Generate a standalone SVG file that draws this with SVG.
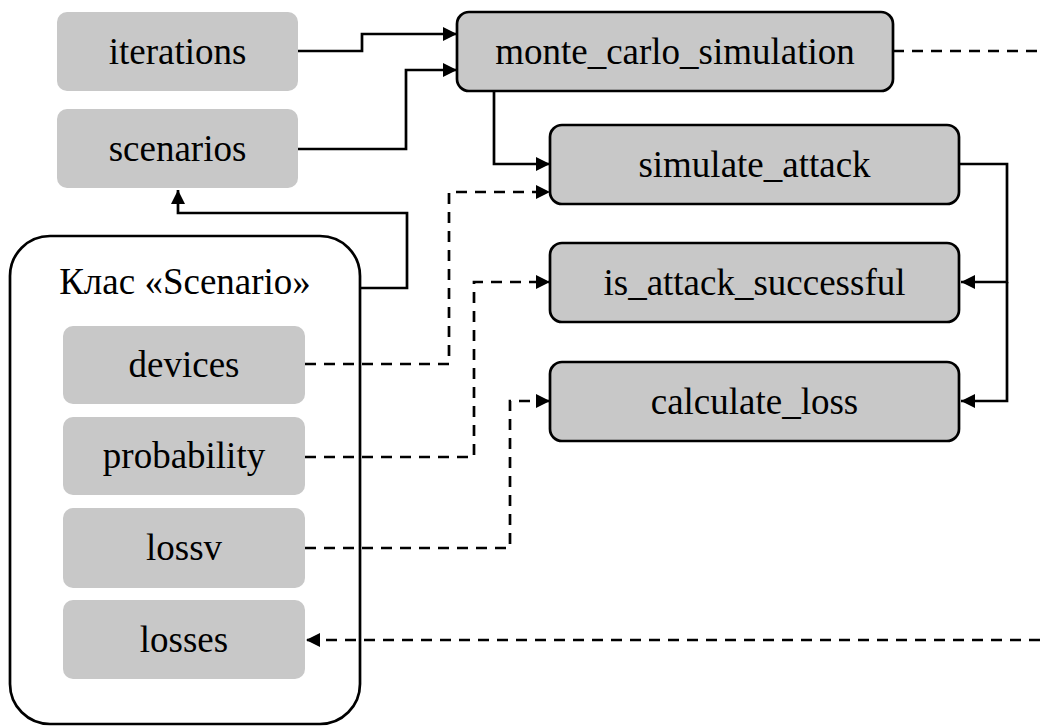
<svg xmlns="http://www.w3.org/2000/svg" width="1040" height="726" viewBox="0 0 1040 726">
  <style>
    .lbl { font-family: "Liberation Serif", "Times New Roman", serif; font-size: 37px; fill: #000; text-anchor: middle; }
    .plain { fill: #c8c8c8; stroke: none; }
    .func { fill: #c8c8c8; stroke: #000; stroke-width: 2.7; }
    .cls { fill: #fff; stroke: #000; stroke-width: 2.7; }
    .solid { fill: none; stroke: #000; stroke-width: 2.7; }
    .dash { fill: none; stroke: #000; stroke-width: 2.7; stroke-dasharray: 11 8; }
  </style>
  <defs>
    <marker id="arrow" viewBox="0 0 14 14" refX="14" refY="7" markerWidth="14" markerHeight="14" markerUnits="userSpaceOnUse" orient="auto">
      <path d="M0,0 L14,7 L0,14 Z" fill="#000"/>
    </marker>
  </defs>

  <rect width="1040" height="726" fill="#fff"/>

  <!-- Scenario class container -->
  <g id="class-scenario">
    <rect class="cls" x="10" y="236" width="350" height="488" rx="40" ry="40"/>
    <text class="lbl" x="185" y="294">Клас «Scenario»</text>
  </g>

  <g id="iterations">
    <rect class="plain" x="57" y="12" width="241" height="79" rx="10"/>
    <text class="lbl" x="177.5" y="64">iterations</text>
  </g>
  <g id="scenarios">
    <rect class="plain" x="57" y="109" width="241" height="79" rx="10"/>
    <text class="lbl" x="177.5" y="161">scenarios</text>
  </g>

  <g id="devices">
    <rect class="plain" x="63" y="326" width="242" height="78" rx="10"/>
    <text class="lbl" x="184" y="377">devices</text>
  </g>
  <g id="probability">
    <rect class="plain" x="63" y="417" width="242" height="78" rx="10"/>
    <text class="lbl" x="184" y="468">probability</text>
  </g>
  <g id="lossv">
    <rect class="plain" x="63" y="508" width="242" height="80" rx="10"/>
    <text class="lbl" x="184" y="560">lossv</text>
  </g>
  <g id="losses">
    <rect class="plain" x="63" y="600" width="242" height="79" rx="10"/>
    <text class="lbl" x="184" y="652">losses</text>
  </g>

  <g id="monte_carlo_simulation">
    <rect class="func" x="457" y="12" width="436" height="79" rx="12"/>
    <text class="lbl" x="675" y="64">monte_carlo_simulation</text>
  </g>
  <g id="simulate_attack">
    <rect class="func" x="550" y="125" width="409" height="79" rx="12"/>
    <text class="lbl" x="754.5" y="177">simulate_attack</text>
  </g>
  <g id="is_attack_successful">
    <rect class="func" x="550" y="243" width="409" height="79" rx="12"/>
    <text class="lbl" x="754.5" y="295">is_attack_successful</text>
  </g>
  <g id="calculate_loss">
    <rect class="func" x="550" y="362" width="409" height="79" rx="12"/>
    <text class="lbl" x="754.5" y="414">calculate_loss</text>
  </g>

  <g id="connectors">
    <!-- inputs of monte_carlo_simulation -->
    <path class="solid" d="M298,51 H362 V34 H457" marker-end="url(#arrow)"/>
    <path class="solid" d="M298,149 H406 V70 H457" marker-end="url(#arrow)"/>
    <!-- class feeds the scenarios list -->
    <path class="solid" d="M360,288 H407 V213 H178 V190" marker-end="url(#arrow)"/>
    <!-- call chain -->
    <path class="solid" d="M494,91 V164 H550" marker-end="url(#arrow)"/>
    <path class="solid" d="M959,164 H1007 V282 H961" marker-end="url(#arrow)"/>
    <path class="solid" d="M1007,282 V401 H961" marker-end="url(#arrow)"/>
    <!-- attribute usage -->
    <path class="dash" d="M305,364 H449 V192 H550" marker-end="url(#arrow)"/>
    <path class="dash" d="M305,457 H474 V282 H550" marker-end="url(#arrow)"/>
    <path class="dash" d="M305,548 H510 V401 H550" marker-end="url(#arrow)"/>
    <!-- results written back -->
    <path class="dash" d="M893,51 H1040"/>
    <path class="dash" d="M1040,640 H306" marker-end="url(#arrow)"/>
  </g>
</svg>
